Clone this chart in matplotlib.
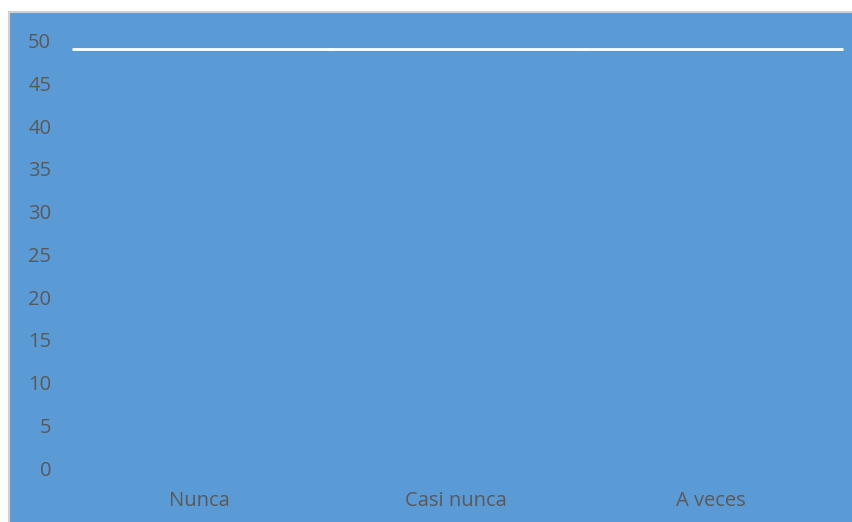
import matplotlib.pyplot as plt
import numpy as np
from matplotlib.patches import Rectangle

categories = ['Nunca', 'Casi nunca', 'A veces']
values = [49, 49, 49]
yticks = [0, 5, 10, 15, 20, 25, 30, 35, 40, 45, 50]

blue = '#5B9BD5'
grey = '#595959'
plt.rcParams['font.family'] = ['Open Sans', 'DejaVu Sans']

fig = plt.figure(figsize=(8.53, 5.22), dpi=100)
fig.patch.set_facecolor('white')

# chart area background with thin grey frame
bg = Rectangle((9 / 853, -0.01), 1.0, (522 - 12) / 522 + 0.01,
               transform=fig.transFigure, facecolor=blue,
               edgecolor='#D0D0D0', linewidth=1.5, zorder=-5)
fig.patches.append(bg)

ax = fig.add_axes([72 / 853, (522 - 468) / 522, (839 - 72) / 853, (468 - 40.7) / 522])
ax.set_facecolor('none')
ax.set_zorder(2)

x = np.arange(len(categories))
ax.hlines(values, x - 0.5, x + 0.515, color='white', linewidth=2, clip_on=False)

ax.set_xlim(-0.5, len(categories) - 0.5)
ax.set_ylim(0, 50)
ax.set_xticks(x)
ax.set_xticklabels(categories)
ax.set_yticks(yticks)
for s in ax.spines.values():
    s.set_visible(False)
ax.tick_params(axis='both', length=0, labelsize=14.5, labelcolor=grey)
ax.tick_params(axis='y', pad=15)
ax.tick_params(axis='x', pad=16.5)

fig.savefig('out.png', dpi=100)
